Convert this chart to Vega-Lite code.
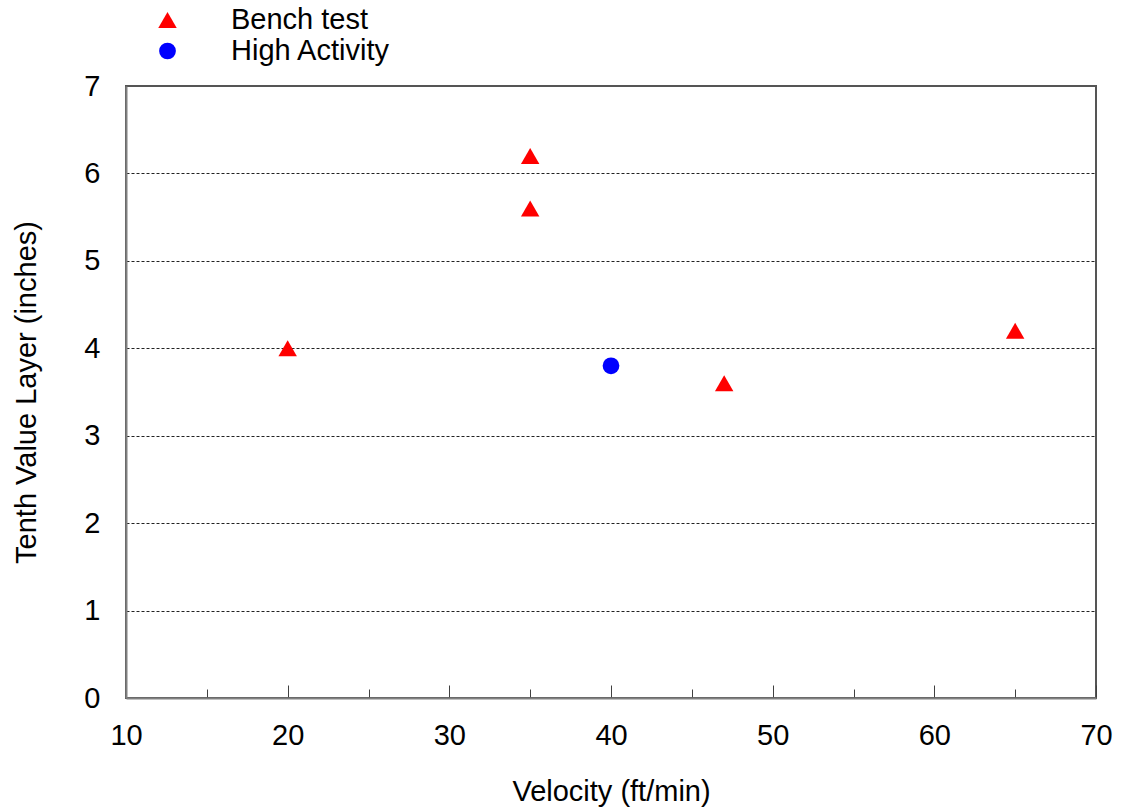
{
  "$schema": "https://vega.github.io/schema/vega-lite/v6.json",
  "width": 970,
  "height": 612,
  "autosize": {"type": "none"},
  "padding": {"left": 126, "top": 86, "right": 26, "bottom": 112},
  "background": "white",
  "config": {
    "font": "Liberation Sans",
    "view": {"stroke": "#555555", "strokeWidth": 2},
    "axis": {"labelFont": "Liberation Sans", "titleFont": "Liberation Sans", "labelColor": "black", "titleColor": "black", "titleFontWeight": "normal"}
  },
  "data": {
    "values": [
      {"velocity": 20, "tvl": 4.0, "series": "Bench test"},
      {"velocity": 35, "tvl": 6.2, "series": "Bench test"},
      {"velocity": 35, "tvl": 5.6, "series": "Bench test"},
      {"velocity": 47, "tvl": 3.6, "series": "Bench test"},
      {"velocity": 65, "tvl": 4.2, "series": "Bench test"},
      {"velocity": 40, "tvl": 3.8, "series": "High Activity"}
    ]
  },
  "mark": {"type": "point", "filled": true, "opacity": 1},
  "encoding": {
    "x": {
      "field": "velocity", "type": "quantitative",
      "scale": {"domain": [10, 70], "nice": false, "zero": false},
      "axis": {
        "title": "Velocity (ft/min)",
        "values": [10, 15, 20, 25, 30, 35, 40, 45, 50, 55, 60, 65, 70],
        "labelExpr": "datum.value % 10 === 0 ? datum.label : ''",
        "grid": false,
        "domainColor": "#808080", "domainWidth": 2,
        "tickColor": "#404040", "tickWidth": 1,
        "tickSize": {"condition": {"test": "datum.value % 10 === 0", "value": -13}, "value": -9},
        "labelFontSize": 29, "labelPadding": 36, "labelFlush": false,
        "titleFontSize": 29, "titlePadding": 27
      }
    },
    "y": {
      "field": "tvl", "type": "quantitative",
      "scale": {"domain": [0, 7], "nice": false},
      "axis": {
        "title": "Tenth Value Layer (inches)",
        "values": [0, 1, 2, 3, 4, 5, 6, 7],
        "ticks": false,
        "grid": true, "gridColor": "#222222", "gridWidth": 1, "gridDash": [3, 2],
        "gridOpacity": {"condition": {"test": "datum.value === 0 || datum.value === 7", "value": 0}, "value": 1},
        "domainColor": "#808080", "domainWidth": 2,
        "labelFontSize": 29, "labelPadding": 26,
        "titleFontSize": 29, "titlePadding": 42
      }
    },
    "color": {
      "field": "series", "type": "nominal",
      "scale": {"domain": ["Bench test", "High Activity"], "range": ["#ff0000", "#0000ff"]},
      "legend": {
        "title": null, "orient": "none", "legendX": 27, "legendY": -80.5,
        "labelFontSize": 29, "labelFont": "Liberation Sans", "labelColor": "black",
        "symbolSize": 300, "labelOffset": 49, "rowPadding": 1, "padding": 0,
        "symbolStrokeWidth": 0, "symbolOpacity": 1
      }
    },
    "shape": {
      "field": "series", "type": "nominal",
      "scale": {"domain": ["Bench test", "High Activity"], "range": ["triangle-up", "circle"]},
      "legend": null
    },
    "size": {
      "field": "series", "type": "nominal",
      "scale": {"domain": ["Bench test", "High Activity"], "range": [340, 280]},
      "legend": null
    }
  }
}
